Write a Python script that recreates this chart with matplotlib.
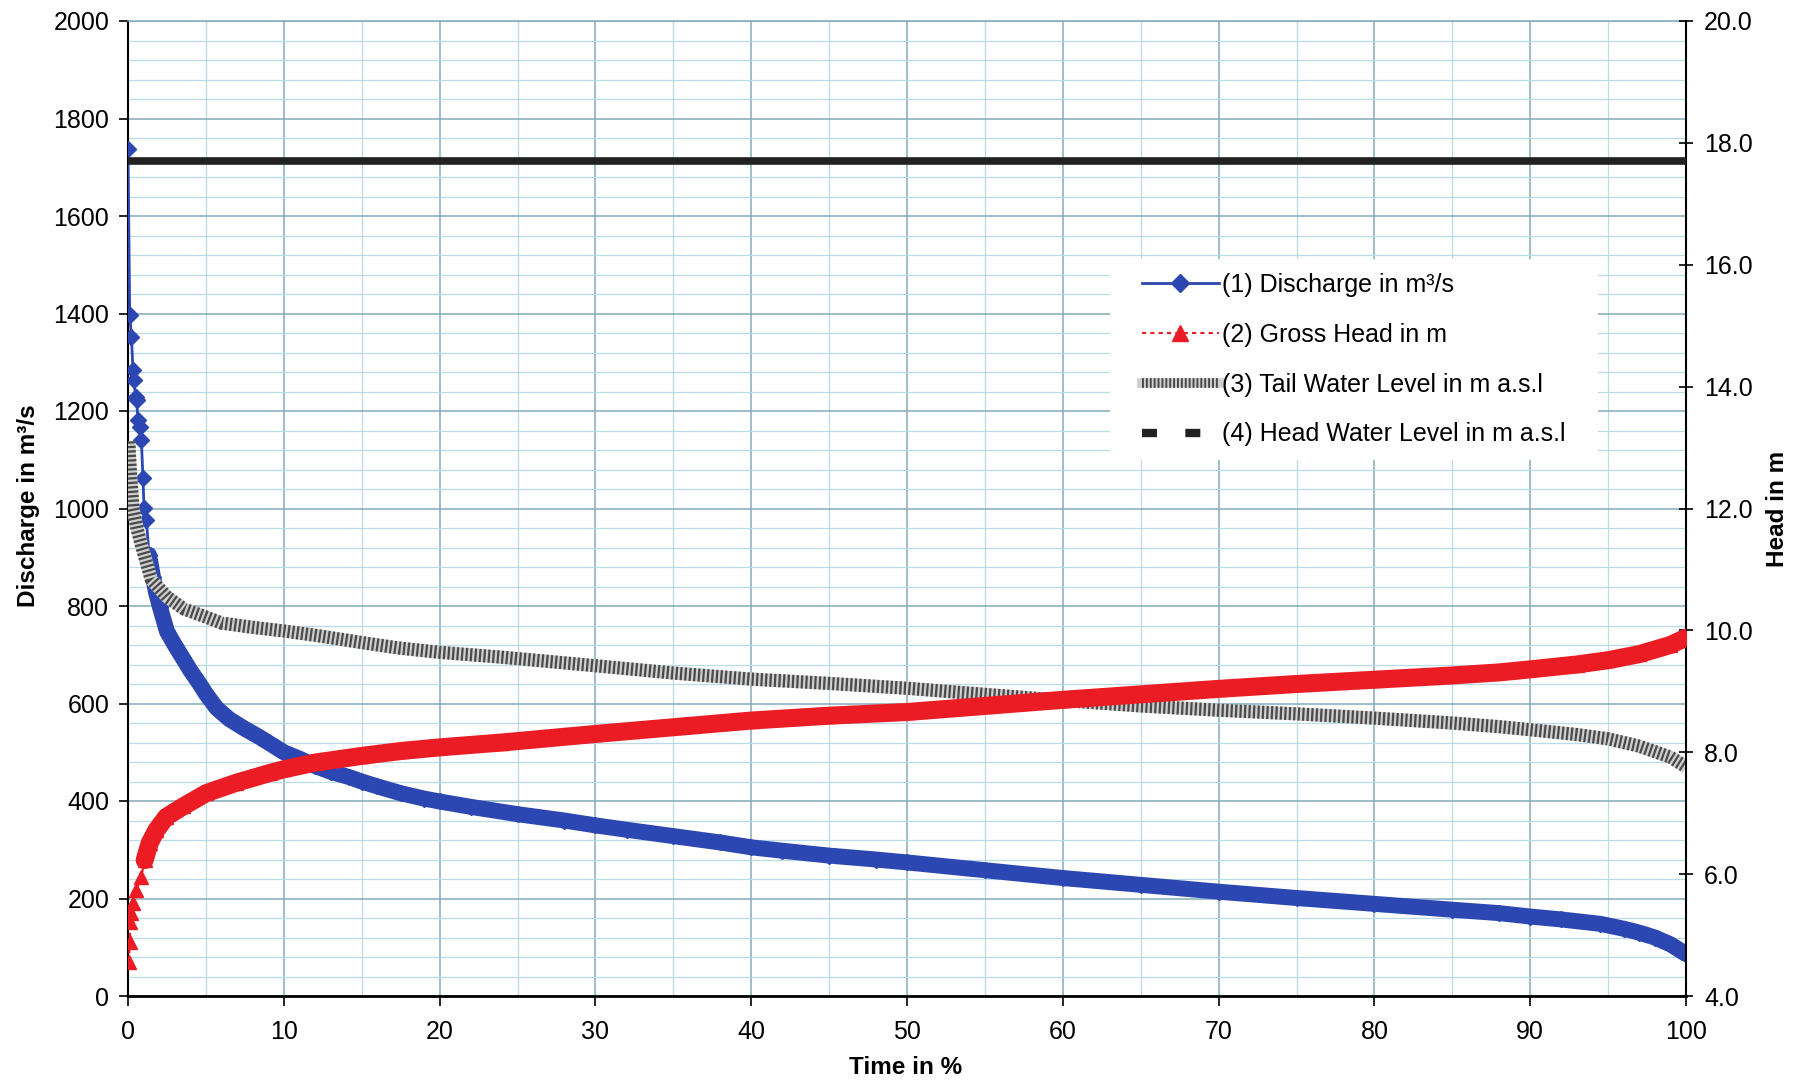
import numpy as np
import matplotlib
matplotlib.use("Agg")
import matplotlib.pyplot as plt
from matplotlib.lines import Line2D
from matplotlib.patches import Rectangle
from matplotlib.ticker import MultipleLocator, FormatStrFormatter

plt.rcParams['font.family'] = ['Liberation Sans', 'DejaVu Sans']

# ---------------- data ----------------
# (1) Discharge in m3/s  (left axis)
q_time = [0.0, 0.11, 0.22, 0.32, 0.37, 0.49, 0.55, 0.64, 0.75, 0.86, 0.96, 1.03, 1.18,
          1.35, 1.6, 1.8, 2.05, 2.5, 3.0, 3.5, 4.0, 4.6, 5.0, 5.7, 6.5, 7.4, 8.5, 10,
          11, 12, 13, 14.2, 15, 16, 17.5, 19, 20, 22, 25, 28, 30, 32, 35, 38, 40, 42,
          45, 48, 50, 55, 60, 65, 70, 75, 80, 85, 88, 90, 92, 94.5, 96, 97, 98, 99, 100]
q_vals = [1737, 1397, 1352, 1284, 1264, 1229, 1222, 1181, 1168, 1140, 1062, 1002, 976,
          905, 860, 828, 798, 748, 720, 694, 668, 640, 620, 590, 568, 550, 530, 500,
          487, 472, 460, 449, 440, 430, 416, 405, 399, 388, 373, 360, 350, 341, 328,
          315, 305, 298, 288, 280, 274, 258, 242, 228, 214, 201, 189, 177, 170, 163,
          157, 148, 138, 130, 120, 106, 86]

# (2) Gross Head in m  (right axis)
h_time = [0.05, 0.12, 0.16, 0.22, 0.32, 0.54, 0.86, 1.07, 1.39, 1.82, 2.46, 3.53, 5.03,
          6.96, 9.1, 10, 12, 15, 17.5, 20, 24, 30, 35, 40, 45, 50, 55, 60, 65, 70, 75,
          80, 85, 88, 90, 93, 95, 97, 99, 100]
h_vals = [4.56, 4.88, 5.22, 5.36, 5.53, 5.74, 5.96, 6.23, 6.51, 6.72, 6.94, 7.11, 7.33,
          7.50, 7.66, 7.72, 7.83, 7.94, 8.02, 8.08, 8.16, 8.30, 8.41, 8.52, 8.60, 8.66,
          8.76, 8.86, 8.95, 9.04, 9.12, 9.19, 9.26, 9.31, 9.36, 9.44, 9.51, 9.61, 9.76, 9.88]

# (3) Tail Water Level in m a.s.l (right axis)
t_time = [0.05, 0.15, 0.32, 0.6, 0.95, 1.5, 2.5, 3.6, 5.0, 6.0, 8, 10, 12, 15, 17.4, 20,
          24, 30, 35, 40, 45, 50, 55, 60, 65, 70, 75, 80, 85, 88, 90, 93, 95, 97, 99, 100]
t_vals = [13.1, 12.6, 12.0, 11.65, 11.32, 10.83, 10.55, 10.35, 10.22, 10.12, 10.05, 9.99,
          9.92, 9.80, 9.71, 9.64, 9.56, 9.42, 9.30, 9.20, 9.13, 9.05, 8.95, 8.85, 8.76,
          8.69, 8.63, 8.56, 8.48, 8.42, 8.37, 8.29, 8.22, 8.10, 7.92, 7.76]

# (4) Head Water Level in m a.s.l (right axis)
hw_time = [0, 100]
hw_vals = [17.7, 17.7]

labels = ['(1) Discharge in m³/s', '(2) Gross Head in m',
          '(3) Tail Water Level in m a.s.l', '(4) Head Water Level in m a.s.l']

# ---------------- styling ----------------
BLUE = '#2c47b1'
RED = '#ec1c24'
MAJ = '#82abbb'
MIN = '#b8dbe8'

fig = plt.figure(figsize=(18.03, 10.82), dpi=100)
ax = fig.add_axes([128 / 1803, 86 / 1082, 1558 / 1803, 975 / 1082])
ax2 = ax.twinx()

ax.set_xlim(0, 100)
ax.set_ylim(0, 2000)
ax2.set_ylim(4, 20)

ax.xaxis.set_major_locator(MultipleLocator(10))
ax.xaxis.set_minor_locator(MultipleLocator(5))
ax.yaxis.set_major_locator(MultipleLocator(200))
ax.yaxis.set_minor_locator(MultipleLocator(40))
ax2.yaxis.set_major_locator(MultipleLocator(2))
ax2.yaxis.set_major_formatter(FormatStrFormatter('%.1f'))

ax.set_axisbelow(True)
ax.grid(which='major', color=MAJ, lw=1.1)
ax.grid(which='minor', color=MIN, lw=0.9)

# spines
for s in ['top', 'left', 'bottom']:
    ax2.spines[s].set_visible(False)
ax.spines['right'].set_visible(False)
ax.spines['top'].set_color(MAJ)
ax.spines['top'].set_linewidth(1.1)
ax.spines['left'].set_linewidth(1.5)
ax.spines['bottom'].set_linewidth(2.0)
ax2.spines['right'].set_linewidth(1.5)

ax.tick_params(axis='y', which='major', direction='out', length=6.5, width=1.2,
               pad=7, labelsize=18)
ax.tick_params(axis='x', which='major', direction='out', length=7, width=1.2,
               pad=10, labelsize=18)
ax.tick_params(which='minor', length=0)
ax2.tick_params(axis='y', direction='inout', length=10, width=1.2, pad=8, labelsize=18)

# ---------------- series ----------------
qt = np.array(q_time); qv = np.array(q_vals)
ht = np.array(h_time); hv = np.array(h_vals)
tt = np.array(t_time); tv = np.array(t_vals)

mq = qt >= 1.3
ax.plot(qt[mq], qv[mq], color=BLUE, lw=11.5, solid_capstyle='round',
        solid_joinstyle='round', zorder=3)
ax.plot(qt, qv, color=BLUE, lw=2, marker='D', ms=8.5, zorder=4)

ax2.plot(tt, tv, color='#cfcfcf', lw=9.5, solid_capstyle='butt', zorder=2)
ax2.plot(tt, tv, color='#4a4a4a', lw=9.5, dashes=(0.17, 0.17), zorder=2.1)

mh = ht >= 0.9
ax2.plot(ht[mh], hv[mh], color=RED, lw=13, solid_capstyle='round',
         solid_joinstyle='round', zorder=3)
ax2.plot(ht, hv, color=RED, lw=1.5, ls=(0, (2, 2)), marker='^', ms=10.5, zorder=4)

ax2.plot(hw_time, hw_vals, color='#222222', lw=5.5, solid_capstyle='butt', zorder=5)

# ---------------- legend ----------------
ax2.add_patch(Rectangle((0.6303, 0.5497), 0.9435 - 0.6303, 0.7559 - 0.5497,
                        transform=ax2.transAxes, facecolor='white', edgecolor='none',
                        zorder=9))
h1 = Line2D([], [], color=BLUE, lw=2, marker='D', ms=9)
h2 = Line2D([], [], color=RED, lw=1.5, ls=(0, (2, 2)), marker='^', ms=11)
g1 = Line2D([], [], color='#cfcfcf', lw=7)
g2 = Line2D([], [], color='#4a4a4a', lw=7, dashes=(0.2, 0.2))
h4 = Line2D([], [], color='#222222', lw=6, dashes=(1.8, 3.4), solid_capstyle='butt',
            dash_capstyle='butt')
leg = ax2.legend([h1, h2, (g1, g2), h4], labels, loc='upper left',
                 bbox_to_anchor=(0.6508, 0.7415), borderaxespad=0, fontsize=18,
                 frameon=False, handlelength=3.08, handletextpad=0.12,
                 labelspacing=1.03, borderpad=0)
leg.set_zorder(10)

# ---------------- axis titles ----------------
fig.text(29 / 1803, 1 - 506 / 1082, 'Discharge in m³/s', rotation=90, ha='center',
         va='center', fontsize=17.5, fontweight='bold')
fig.text(1777 / 1803, 1 - 509 / 1082, 'Head in m', rotation=90, ha='center',
         va='center', fontsize=17.5, fontweight='bold')
fig.text(906 / 1803, 1 - 1068 / 1082, 'Time in %', ha='center', va='center',
         fontsize=17.5, fontweight='bold')

fig.savefig('out.png', dpi=100)
